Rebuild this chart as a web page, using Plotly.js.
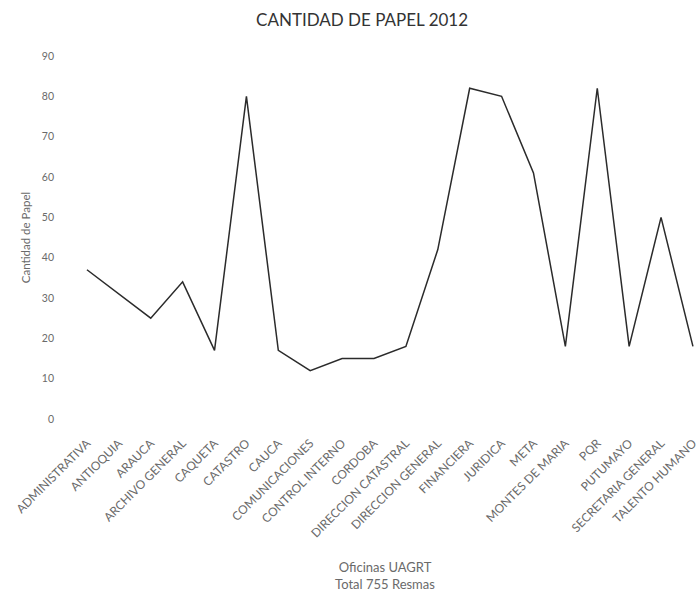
<!DOCTYPE html>
<html>
<head>
<meta charset="utf-8">
<script src="https://cdn.plot.ly/plotly-3.0.1.min.js"></script>
<style>html,body{margin:0;padding:0;background:#fff;}#chart{width:699px;height:598px;}</style>
</head>
<body>
<div id="chart"></div>
<script>
const oficinas = [
  "ADMINISTRATIVA", "ANTIOQUIA", "ARAUCA", "ARCHIVO GENERAL", "CAQUETA",
  "CATASTRO", "CAUCA", "COMUNICACIONES", "CONTROL INTERNO", "CORDOBA",
  "DIRECCION CATASTRAL", "DIRECCION GENERAL", "FINANCIERA", "JURIDICA", "META",
  "MONTES DE MARIA", "PQR", "PUTUMAYO", "SECRETARIA GENERAL", "TALENTO HUMANO"
];
const resmas = [37, 31, 25, 34, 17, 80, 17, 12, 15, 15, 18, 42, 82, 80, 61, 18, 82, 18, 50, 18];
const yTicks = [0, 10, 20, 30, 40, 50, 60, 70, 80, 90];

const fontFam = "Lato, 'Open Sans', sans-serif";

Plotly.newPlot("chart", [{
  type: "scatter",
  mode: "lines",
  x: oficinas,
  y: resmas,
  line: {color: "#2b2b2b", width: 1.5},
  hoverinfo: "x+y"
}], {
  width: 699,
  height: 598,
  paper_bgcolor: "#ffffff",
  plot_bgcolor: "#ffffff",
  margin: {l: 71, r: 0, t: 56, b: 179},
  showlegend: false,
  font: {family: fontFam, color: "#6a6a6a"},
  title: {
    text: "CANTIDAD DE PAPEL 2012",
    x: 0.518, xanchor: "center",
    y: 0.966, yanchor: "middle",
    xref: "container", yref: "container",
    font: {family: fontFam, size: 17, color: "#333333"}
  },
  xaxis: {
    type: "category",
    range: [-0.5, 19.19],
    showgrid: false,
    showline: false,
    zeroline: false,
    ticks: "",
    tickangle: -45,
    ticklabelstandoff: 14,
    tickfont: {family: fontFam, size: 12, color: "#6a6a6a"},
    title: {
      text: "Oficinas UAGRT<br>Total 755 Resmas",
      standoff: 23,
      font: {family: fontFam, size: 13, color: "#6a6a6a"}
    },
    fixedrange: true
  },
  yaxis: {
    range: [0, 90],
    tickvals: yTicks,
    showgrid: false,
    showline: false,
    zeroline: false,
    ticks: "",
    ticklabelstandoff: 16,
    tickfont: {family: fontFam, size: 10.5, color: "#6a6a6a"},
    title: {
      text: "Cantidad de Papel",
      standoff: 8,
      font: {family: fontFam, size: 11.5, color: "#6a6a6a"}
    },
    fixedrange: true
  }
}, {displayModeBar: false, staticPlot: true});
</script>
</body>
</html>
